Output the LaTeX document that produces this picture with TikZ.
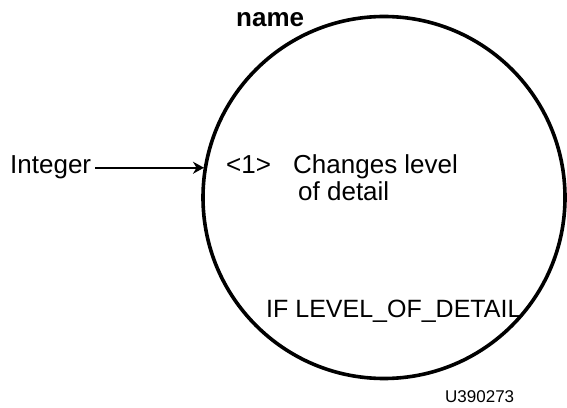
\documentclass[tikz,border=0pt]{standalone}
\usepackage{fontspec}
\setmainfont{Liberation Sans}
\usepackage{tikz}
\usetikzlibrary{shapes.geometric,arrows.meta}
\tikzstyle{testo} = [inner sep=0pt,anchor=base west,font=\fontsize{26}{30}\selectfont]
\tikzstyle{testopiccolo} = [inner sep=0pt,anchor=base west,font=\fontsize{17}{20}\selectfont]
\tikzstyle{bolla} = [circle,draw=black,line width=3.6pt,minimum size=362pt,inner sep=0pt]
\tikzstyle{freccia} = [line width=2pt,-{Stealth[length=11pt,width=12pt]}]

\begin{document}
\begin{tikzpicture}[x=1pt,y=1pt]
\useasboundingbox (0,0) rectangle (567,407);
\clip (0,0) rectangle (567,407);

% 1pt = 1 pixel of the 567x407 frame

\node (cerchio) [bolla] at (384,209.5) {};

\node (nome) [testo,font=\fontsize{26}{30}\selectfont\bfseries] at (236,380) {name};

\node (intero) [testo] at (10,233) {Integer};

\node (uno)  [testo] at (226,233) {<1>};
\node (cambia) [testo] at (293,233) {Changes level};
\node (dettaglio) [testo] at (298,206) {of detail};

\node (livello) [testo,font=\fontsize{25}{30}\selectfont] at (266,90) {IF LEVEL\_OF\_DETAIL};

\node (codice) [testopiccolo] at (445,5) {U390273};

\draw[freccia] ([xshift=4pt]intero.east) -- (intero.east -| cerchio.170);

\end{tikzpicture}
\end{document}
